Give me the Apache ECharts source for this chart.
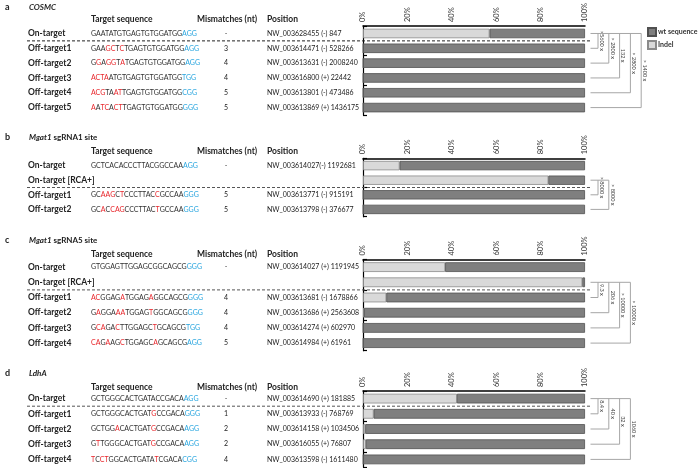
<!DOCTYPE html>
<html><head><meta charset="utf-8">
<script src="https://cdn.jsdelivr.net/npm/echarts@6/dist/echarts.min.js"></script>
<style>html,body{margin:0;padding:0;background:#fff}#c{width:700px;height:468px}</style>
</head><body><div id="c"></div>
<script>
// ---------- DATA ----------
// lowercase letter = mismatch (red); last 3 letters = PAM (blue)
const panelLetters = ['a', 'b', 'c', 'd'];
const panelTitles = ['COSMC', 'Mgat1', 'Mgat1', 'LdhA'];
const panelTitleSuffix = ['', ' sgRNA1 site', ' sgRNA5 site', ''];
const headers = ['Target sequence', 'Mismatches (nt)', 'Position'];
const xTicks = [0, 20, 40, 60, 80, 100];

const catA = ['On-target', 'Off-target1', 'Off-target2', 'Off-target3', 'Off-target4', 'Off-target5'];
const seqA = ['GAATATGTGAGTGTGGATGGAGG', 'GAAgcTcTGAGTGTGGATGGAGG', 'GgAggTaTGAGTGTGGATGGAGG', 'actaATGTGAGTGTGGATGGTGG', 'acgTAatTGAGTGTGGATGGCGG', 'aAtcActTGAGTGTGGATGGGGG'];
const mmA = ['-', '3', '4', '4', '5', '5'];
const posA = ['NW_003628455 (-) 847', 'NW_003614471 (-) 528266', 'NW_003613631 (-) 2008240', 'NW_003616800 (+) 22442', 'NW_003613801 (-) 473486', 'NW_003613869 (+) 1436175'];
const indelA = [57, 0, 0, 0, 0, 0];
const wtA = [43, 100, 100, 100, 100, 100];
const foldA = ['>5600 x', '> 2800 x', '132 x', '> 2800 x', '> 1400 x'];

const catB = ['On-target', 'On-target [RCA+]', 'Off-target1', 'Off-target2'];
const seqB = ['GCTCACACCCTTACGGCCAAAGG', '', 'GCaagCtCCCTTACcGCCAAGGG', 'GCaCcagCCCTTACtGCCAAGGG'];
const mmB = ['-', '', '5', '5'];
const posB = ['NW_003614027(-) 1192681', '', 'NW_003613771 (-) 915191', 'NW_003613798 (-) 376677'];
const indelB = [16.5, 83.5, 0, 0];
const wtB = [83.5, 16.5, 100, 100];
const foldB = ['> 8000 x', '> 8000 x'];

const catC = ['On-target', 'On-target [RCA+]', 'Off-target1', 'Off-target2', 'Off-target3', 'Off-target4'];
const seqC = ['GTGGAGTTGGAGCGGCAGCGGGG', '', 'acGGAGaTGGAGaGGCAGCGGGG', 'GaGGAaaTGGAGtGGCAGCGGGG', 'GcaGAcTTGGAGCtGCAGCGTGG', 'caGaAGcTGGAGCaGCAGCGAGG'];
const mmC = ['-', '', '4', '4', '4', '5'];
const posC = ['NW_003614027 (+) 1191945', '', 'NW_003613681 (-) 1678866', 'NW_003613686 (+) 2563608', 'NW_003614274 (+) 602970', 'NW_003614984 (+) 61961'];
const indelC = [37, 98.8, 10.5, 0.5, 0, 0];
const wtC = [63, 1.2, 89.5, 99.5, 100, 100];
const foldC = ['9.3 x', '206 x', '> 10000 x', '> 10000 x'];

const catD = ['On-target', 'Off-target1', 'Off-target2', 'Off-target3', 'Off-target4'];
const seqD = ['GCTGGGCACTGATACCGACAAGG', 'GCTGGGCACTGATgCCGACAGGG', 'GCTGGaCACTGATgCCGACAAGG', 'GtTGGGCACTGATgCCGACAAGG', 'tCctGGCACTGATAtCGACACGG'];
const mmD = ['-', '1', '2', '2', '4'];
const posD = ['NW_003614690 (+) 181885', 'NW_003613933 (-) 768769', 'NW_003614158 (+) 1034506', 'NW_003616055 (+) 76807', 'NW_003613598 (-) 1611480'];
const indelD = [42.3, 4.8, 1.0, 1.3, 0.04];
const wtD = [57.7, 95.2, 99.0, 98.7, 99.96];
const foldD = ['8.4 x', '40 x', '32 x', '1060 x'];

// reference row index for the fold brackets / dashed separator (after this row)
const refRow = [0, 1, 1, 0];

// ---------- BUILD ----------
const panels = [
  {cats: catA, seq: seqA, mm: mmA, pos: posA, indel: indelA, wt: wtA, fold: foldA},
  {cats: catB, seq: seqB, mm: mmB, pos: posB, indel: indelB, wt: wtB, fold: foldB},
  {cats: catC, seq: seqC, mm: mmC, pos: posC, indel: indelC, wt: wtC, fold: foldC},
  {cats: catD, seq: seqD, mm: mmD, pos: posD, indel: indelD, wt: wtD, fold: foldD}
];
// layout
const gridTops = [25, 158.3, 259.5, 391];
const rowH = [15, 14.6, 15.2, 15.2];
const titleY = [7, 137, 240, 373];
const headerY = [19, 151, 254, 387];
const FONT = 'Lato, "Open Sans", sans-serif';
const TXT = '#222';

const grids = [], xAxes = [], yAxes = [], series = [];
panels.forEach((p, i) => {
  grids.push({left: 363, width: 222, top: gridTops[i], height: rowH[i] * p.cats.length});
  xAxes.push({
    type: 'value', gridIndex: i, position: 'top', min: xTicks[0], max: xTicks[xTicks.length - 1], interval: xTicks[1] - xTicks[0],
    axisLine: {show: true, lineStyle: {color: '#000', width: 1.5}},
    axisTick: {show: false}, splitLine: {show: false},
    axisLabel: {rotate: -90, fontSize: 7.5, color: '#333', fontFamily: FONT, margin: 4, formatter: v => v + '%'}
  });
  yAxes.push({
    type: 'category', gridIndex: i, inverse: true, data: p.cats,
    axisLine: {show: true, lineStyle: {color: '#000', width: 1.2}},
    axisTick: {show: true, inside: true, length: 4, lineStyle: {color: '#000', width: 1.2}},
    axisLabel: {show: false}
  });
  series.push({
    name: 'Indel', type: 'bar', stack: 's' + i, xAxisIndex: i, yAxisIndex: i,
    data: p.indel, barCategoryGap: '36%',
    itemStyle: {color: '#d9d9d9', borderColor: '#8a8a8a', borderWidth: 0.8}
  });
  series.push({
    name: 'wt sequence', type: 'bar', stack: 's' + i, xAxisIndex: i, yAxisIndex: i,
    data: p.wt, barCategoryGap: '36%',
    itemStyle: {color: '#7f7f7f', borderColor: '#505050', borderWidth: 0.8}
  });
});

const chart = echarts.init(document.getElementById('c'), null, {renderer: 'canvas'});
chart.setOption({
  animation: false,
  grid: grids, xAxis: xAxes, yAxis: yAxes, series: series,
  legend: {
    data: ['wt sequence', 'Indel'], orient: 'vertical', left: 642, top: 22,
    itemWidth: 8, itemHeight: 8, itemGap: 3, icon: 'rect', padding: 5,
    textStyle: {fontSize: 7, fontWeight: 'bold', color: '#333', fontFamily: FONT, padding: [0, 0, 0, -3]}
  }
});

function seqRich(s) {
  let out = '', cur = null, buf = '';
  for (let k = 0; k < s.length; k++) {
    const ch = s[k];
    let t = k >= s.length - 3 ? 'p' : (ch === ch.toLowerCase() ? 'r' : 'k');
    if (t !== cur) { if (buf) out += '{' + cur + '|' + buf + '}'; buf = ''; cur = t; }
    buf += ch.toUpperCase();
  }
  if (buf) out += '{' + cur + '|' + buf + '}';
  return out;
}
const seqFont = {fontSize: 7, fontFamily: FONT};
const rich = {
  k: Object.assign({fill: '#333'}, seqFont),
  r: Object.assign({fill: '#e8262b'}, seqFont),
  p: Object.assign({fill: '#2aa6df'}, seqFont)
};

const g = [];
function text(x, y, t, opt) {
  g.push({type: 'text', x: x, y: y, silent: true, z: 10,
    style: Object.assign({text: t, fill: TXT, fontFamily: FONT, fontSize: 7, verticalAlign: 'middle', align: 'left'}, opt || {})});
}
function line(x1, y1, x2, y2, st) {
  g.push({type: 'line', silent: true, z: 20, shape: {x1: x1, y1: y1, x2: x2, y2: y2},
    style: Object.assign({stroke: '#a6a6a6', lineWidth: 1}, st || {})});
}

panels.forEach((p, i) => {
  text(5, titleY[i], panelLetters[i], {fontSize: 9, fontWeight: 'bold'});
  g.push({type: 'text', x: 29, y: titleY[i], silent: true, z: 10,
    style: {text: '{i|' + panelTitles[i] + '}{n|' + panelTitleSuffix[i] + '}', verticalAlign: 'middle',
      rich: {i: {fontSize: 8, fontWeight: 'bold', fontStyle: 'italic', fontFamily: FONT, fill: TXT},
             n: {fontSize: 8, fontWeight: 'bold', fontFamily: FONT, fill: TXT}}}});
  text(91, headerY[i], headers[0], {fontSize: 8.5, fontWeight: 'bold'});
  text(197, headerY[i], headers[1], {fontSize: 8.5, fontWeight: 'bold'});
  text(267, headerY[i], headers[2], {fontSize: 8.5, fontWeight: 'bold'});
  const ys = p.cats.map((c, k) => chart.convertToPixel({yAxisIndex: i}, k));
  p.cats.forEach((c, k) => {
    const y = ys[k];
    text(28, y, c, {fontSize: 8.5, fontWeight: 'bold'});
    if (p.seq[k]) g.push({type: 'text', x: 91, y: y, silent: true, z: 10,
      style: {text: seqRich(p.seq[k]), verticalAlign: 'middle', rich: rich}});
    if (p.mm[k]) text(226, y, p.mm[k], {align: 'center'});
    if (p.pos[k]) text(267, y, p.pos[k]);
  });
  const r = refRow[i];
  const yd = (ys[r] + ys[r + 1]) / 2;
  line(27, yd, 590, yd, {stroke: i === 0 ? '#222' : '#555', lineWidth: 1, lineDash: [3, 2]});
  const xEnd = chart.convertToPixel({xAxisIndex: i}, 100) + 5.5;
  const vx = p.fold.map((f, j) => xEnd + 7.5 + 10.8 * j);
  line(xEnd, ys[r], vx[vx.length - 1], ys[r]);
  p.fold.forEach((f, j) => {
    const yt = ys[r + 1 + j];
    line(vx[j], ys[r], vx[j], yt);
    line(xEnd, yt, vx[j], yt);
    g.push({type: 'text', x: vx[j] + 3.5, y: (ys[r] + yt) / 2, rotation: -Math.PI / 2, silent: true, z: 10,
      style: {text: f, fontSize: 5.5, fontFamily: FONT, fill: '#444', align: 'center', verticalAlign: 'middle'}});
  });
});
chart.setOption({graphic: g});
</script>
</body></html>
